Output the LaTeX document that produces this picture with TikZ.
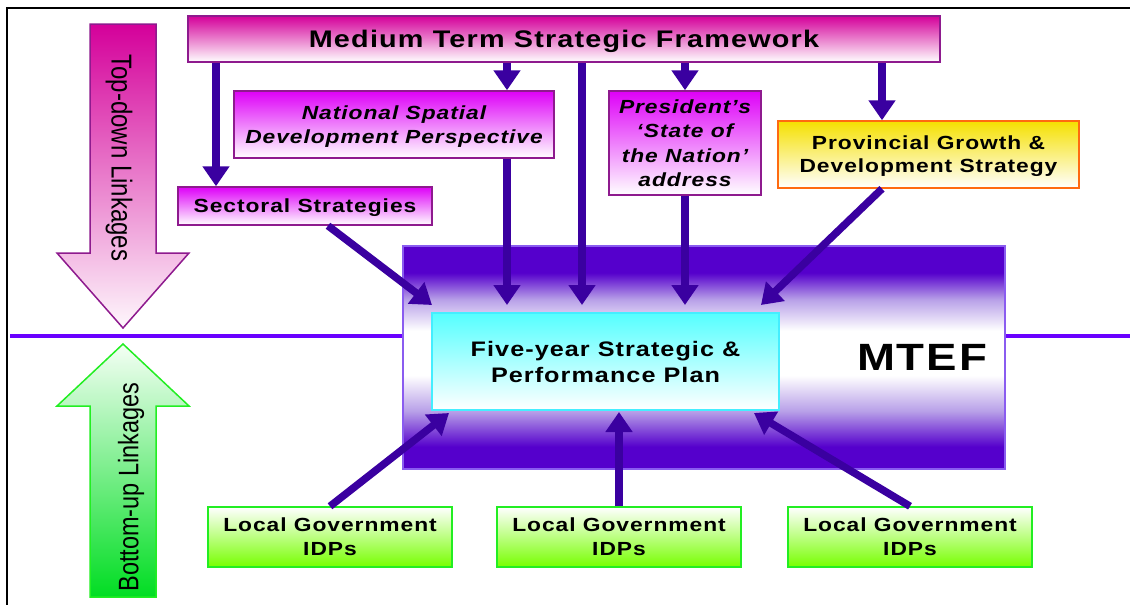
\documentclass[tikz,border=0pt]{standalone}
\usepackage{fontspec}
\usepackage{graphicx}
\setmainfont{Liberation Sans}
\newfontfamily\wf{Liberation Sans}[FakeStretch=1.2,LetterSpace=5]
\usetikzlibrary{arrows.meta}
\definecolor{conncol}{HTML}{3A00A0}
\definecolor{mag}{HTML}{D4009A}
\definecolor{vio}{HTML}{DE00F8}
\definecolor{pborder}{HTML}{8E1A8E}
\definecolor{yel}{HTML}{F5E000}
\definecolor{orng}{HTML}{FF6A10}
\definecolor{lgreen}{HTML}{77FF00}
\definecolor{gborder}{HTML}{22EE22}
\definecolor{bgreen}{HTML}{00DD22}
\definecolor{cyanf}{HTML}{55FFFF}
\definecolor{cyanb}{HTML}{44EEFF}
\definecolor{mtefdark}{HTML}{5500CC}
\definecolor{mteflav}{HTML}{B8A0E8}
\definecolor{mtefb}{HTML}{8A5CF0}
\definecolor{hline}{HTML}{6A00FF}
\pgfdeclareverticalshading{mtefsh}{100bp}{color(0bp)=(mtefdark); color(25bp)=(mtefdark); color(30bp)=(mtefdark); color(38bp)=(mteflav); color(46bp)=(white); color(56bp)=(white); color(63bp)=(mteflav); color(69bp)=(mtefdark); color(100bp)=(mtefdark)}
\begin{document}
\begin{tikzpicture}[x=1pt,y=-1pt,
  box/.style={line width=1.5pt, inner sep=0pt, align=center, rectangle},
  lab/.style={font=\wf\bfseries\fontsize{19}{24}\selectfont},
  pinkbox/.style={box, lab, draw=pborder, top color=vio, middle color=vio!30, bottom color=white},
  lgbox/.style={box, lab, draw=gborder, top color=white, middle color=lgreen!30, bottom color=lgreen, minimum width=244pt, minimum height=60pt},
  conn/.style={draw=conncol, line width=7.5pt, -{Triangle[width=26pt,length=20pt]}}
]
\useasboundingbox (0,0) rectangle (1130,605);
% frame
\draw[line width=1.8pt, black] (7,605) -- (7,8) -- (1130,8);
% horizontal divider
\draw[hline, line width=4pt] (10,336) -- (1130,336);
% big arrows
\path[draw=pborder, line width=1.5pt, top color=mag, middle color=mag!35, bottom color=mag!3]
  (90,24) -- (156,24) -- (156,253) -- (189,253) -- (123,328) -- (57,253) -- (90,253) -- cycle;
\path[draw=gborder, line width=1.5pt, top color=green!4, middle color=green!30, bottom color=bgreen]
  (123,344) -- (189,406) -- (156,406) -- (156,597) -- (90,597) -- (90,406) -- (57,406) -- cycle;
\node[rotate=-90, font=\fontsize{24}{28}\selectfont] (td) at (119,158) {\scalebox{1}[1.2]{Top-down Linkages}};
\node[rotate=90, font=\fontsize{23.5}{28}\selectfont] (bu) at (131,487) {\scalebox{1}[1.2]{Bottom-up Linkages}};
% MTEF
\node[box, draw=mtefb, shade, shading=mtefsh, minimum width=602pt, minimum height=223pt] (mtef) at (704,357.5) {};
\node[font=\wf\bfseries\fontsize{38}{40}\selectfont] (mteft) at (922,357) {MTEF};
\node[box, draw=cyanb, top color=cyanf, middle color=cyanf!35, bottom color=white, minimum width=347pt, minimum height=97pt, text depth=-4pt, font=\wf\bfseries\fontsize{21}{26}\selectfont] (plan) at (605.5,361.5) {Five-year Strategic \&\\Performance Plan};
% top boxes
\node[box, draw=pborder, top color=mag, middle color=mag!35, bottom color=white, minimum width=752pt, minimum height=46pt, text depth=-1pt, font=\wf\bfseries\fontsize{24}{28}\selectfont] (mtsf) at (564,39) {Medium Term Strategic Framework};
\node[pinkbox, minimum width=254pt, minimum height=38pt, text depth=-5pt] (sect) at (305,206) {Sectoral Strategies};
\node[pinkbox, minimum width=320pt, minimum height=67pt, text depth=-2pt, font=\wf\bfseries\itshape\fontsize{19}{24}\selectfont] (nsdp) at (394,124.5) {National Spatial\\Development Perspective};
\node[pinkbox, minimum width=152pt, minimum height=104pt, font=\wf\bfseries\itshape\fontsize{19}{24.5}\selectfont] (pres) at (685,143) {President’s\\‘State of\\the Nation’\\address};
\node[box, lab, draw=orng, top color=yel, middle color=yel!30, bottom color=white, minimum width=301pt, minimum height=67pt, text depth=-2pt, font=\wf\bfseries\fontsize{19}{23}\selectfont] (prov) at (928.5,154.5) {Provincial Growth \&\\Development Strategy};
% local government boxes
\node[lgbox] (lg1) at (330,537) {Local Government\\IDPs};
\node[lgbox] (lg2) at (619,537) {Local Government\\IDPs};
\node[lgbox] (lg3) at (910,537) {Local Government\\IDPs};
% coordinates
\coordinate (xs) at (216,0);
\coordinate (xn) at (507,0);
\coordinate (xp) at (685,0);
\coordinate (xg) at (882,0);
\coordinate (xm) at (582,0);
\coordinate (ss) at (328,0);
\coordinate (tm) at (582,305);
\coordinate (tn) at (507,305);
\coordinate (tp) at (685,305);
\coordinate (ts) at (432,305);
\coordinate (tg) at (761,305);
\coordinate (b1) at (449,413);
\coordinate (b2) at (619,412);
\coordinate (b3) at (754,413);
% connectors
\draw[conn] (mtsf.south -| xs) -- (sect.north -| xs);
\draw[conn] (mtsf.south -| xn) -- (nsdp.north -| xn);
\draw[conn] (mtsf.south -| xp) -- (pres.north -| xp);
\draw[conn] (mtsf.south -| xg) -- (prov.north -| xg);
\draw[conn] (mtsf.south -| xm) -- (tm);
\draw[conn] (nsdp.south -| xn) -- (tn);
\draw[conn] (pres.south -| xp) -- (tp);
\draw[conn] (sect.south -| ss) -- (ts);
\draw[conn] (prov.south -| xg) -- (tg);
\draw[conn] (lg1.north) -- (b1);
\draw[conn] (lg2.north) -- (b2);
\draw[conn] (lg3.north) -- (b3);
\end{tikzpicture}
\end{document}
